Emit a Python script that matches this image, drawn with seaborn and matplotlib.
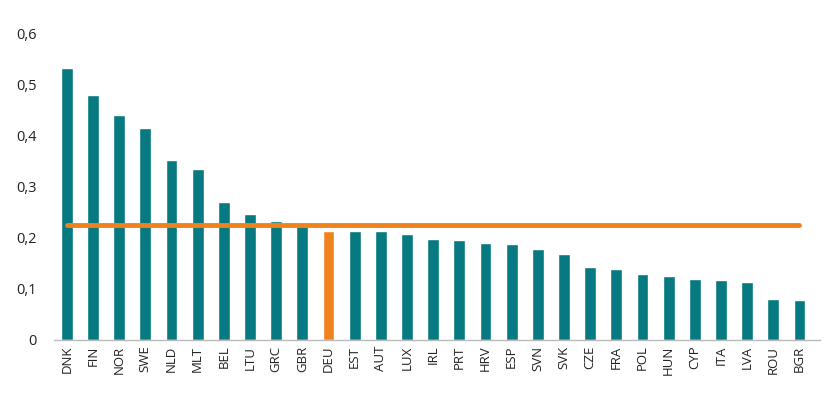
import numpy as np
import pandas as pd
import matplotlib
matplotlib.use('Agg')
import matplotlib.pyplot as plt
import seaborn as sns

countries = ['DNK', 'FIN', 'NOR', 'SWE', 'NLD', 'MLT', 'BEL', 'LTU', 'GRC', 'GBR',
             'DEU', 'EST', 'AUT', 'LUX', 'IRL', 'PRT', 'HRV', 'ESP', 'SVN', 'SVK',
             'CZE', 'FRA', 'POL', 'HUN', 'CYP', 'ITA', 'LVA', 'ROU', 'BGR']
values = [0.534, 0.481, 0.441, 0.415, 0.352, 0.335, 0.270, 0.248, 0.234, 0.224,
          0.213, 0.213, 0.213, 0.207, 0.198, 0.197, 0.190, 0.189, 0.179, 0.169,
          0.143, 0.140, 0.129, 0.125, 0.120, 0.117, 0.113, 0.081, 0.079]
average = 0.226
highlight = 'DEU'

teal = '#067A80'
orange = '#F0821E'

df = pd.DataFrame({'country': countries, 'value': values})
df['group'] = np.where(df['country'] == highlight, 'hl', 'other')

sns.set_style('white')
plt.rcParams['font.family'] = ['Open Sans', 'DejaVu Sans']

fig = plt.figure(figsize=(8.27, 3.97), dpi=100)
ax = fig.add_axes([0.065, 0.1436, 0.927, 0.7708])

sns.barplot(data=df, x='country', y='value', hue='group',
            palette={'hl': orange, 'other': teal}, width=0.45,
            dodge=False, legend=False, ax=ax, saturation=1)

# average line across all countries
ax.plot(range(len(countries)), [average] * len(countries), color=orange,
        lw=3.5, solid_capstyle='round', zorder=5)

ax.set_ylim(0, 0.6)
ax.set_xlim(-0.5, 28.8)
ax.set_yticks(np.arange(0, 0.61, 0.1))
ax.set_yticklabels(['0' if v == 0 else f'{v:.1f}'.replace('.', ',')
                    for v in np.arange(0, 0.61, 0.1)], fontsize=10.5, color='#222222')
ax.tick_params(axis='x', rotation=90, labelsize=9.5, colors='#222222', length=0, pad=4)
ax.tick_params(axis='y', length=0, pad=12)
ax.set_xlabel('')
ax.set_ylabel('')

for s in ['top', 'right', 'left']:
    ax.spines[s].set_visible(False)
ax.spines['bottom'].set_color('#BBBBBB')
ax.spines['bottom'].set_linewidth(1)

fig.savefig('out.png', dpi=100)
